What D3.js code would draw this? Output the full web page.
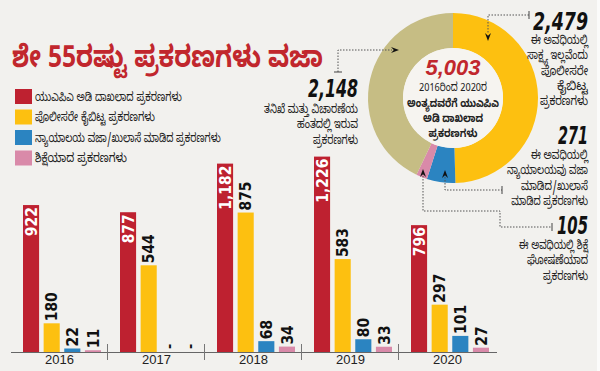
<!DOCTYPE html>
<html><head><meta charset="utf-8">
<script src="https://cdn.jsdelivr.net/npm/d3@7"></script>
<style>
html,body{margin:0;padding:0;background:#f2f1ee;}
svg{display:block;}
.kn{font-family:"Noto Sans Kannada","Noto Sans",sans-serif;}
.num{font-family:"Liberation Sans Narrow","DejaVu Sans Condensed",sans-serif;font-weight:bold;}
</style></head>
<body>
<svg id="c" width="600" height="371"></svg>
<script>
const years = ["2016","2017","2018","2019","2020"];
const seriesNames = ["ಯುಎಪಿಎ ಅಡಿ ದಾಖಲಾದ ಪ್ರಕರಣಗಳು","ಪೊಲೀಸರೇ ಕೈಬಿಟ್ಟ ಪ್ರಕರಣಗಳು","ನ್ಯಾಯಾಲಯ ವಜಾ/ಖುಲಾಸೆ ಮಾಡಿದ ಪ್ರಕರಣಗಳು","ಶಿಕ್ಷೆಯಾದ ಪ್ರಕರಣಗಳು"];
const registered = [922, 877, 1182, 1226, 796];
const droppedByPolice = [180, 544, 875, 583, 297];
const acquitted = [22, null, 68, 80, 101];
const convicted = [11, null, 34, 33, 27];
const seriesColors = ["#be2130","#fdc010","#2b84c1","#d98aa9"];

const donutLabels = ["ಪೊಲೀಸರೇ ಕೈಬಿಟ್ಟ","ನ್ಯಾಯಾಲಯ ವಜಾ","ಶಿಕ್ಷೆ","ತನಿಖೆ/ವಿಚಾರಣೆ"];
const donutValues = [2479, 271, 105, 2148];
const donutColors = ["#fdc010","#2b84c1","#d98aa9","#c6bd84"];
const donutTotal = "5,003";

const svg = d3.select("#c");
svg.append("rect").attr("width",600).attr("height",371).attr("fill","#f2f1ee");
svg.append("rect").attr("x",597).attr("width",3).attr("height",371).attr("fill","#fbfbfa");

// horizontally fit a text element to a target width (keeps glyph height)
function fit(sel, w){
  const L = sel.node().getComputedTextLength();
  const k = w / L;
  const x = +sel.attr("x") || 0, y = +sel.attr("y") || 0;
  sel.attr("x",0).attr("y",0).attr("transform",`translate(${x},${y}) scale(${k},1)`);
  return sel;
}

// Title
fit(svg.append("text").attr("class","kn").attr("x",12).attr("y",67)
  .attr("font-size",30).attr("font-weight","bold").attr("fill","#c1272d")
  .text("ಶೇ 55ರಷ್ಟು ಪ್ರಕರಣಗಳು ವಜಾ"), 311);

// Legend
const legendW = [147,120,186,92];
const leg = svg.append("g");
seriesNames.forEach((n,i)=>{
  const y = 89 + i*20.5;
  leg.append("rect").attr("x",15).attr("y",y).attr("width",17).attr("height",15).attr("fill",seriesColors[i]);
  fit(leg.append("text").attr("class","kn").attr("x",35).attr("y",y+11.5).attr("font-size",12.5).attr("fill","#222").text(n), legendW[i]);
});

// Bars
const series = [registered, droppedByPolice, acquitted, convicted];
const x0 = d3.scaleBand().domain(years).range([12,497]);
const x1 = d3.scaleBand().domain(d3.range(4)).range([11,89]).paddingInner(0.22);
const y = d3.scaleLinear().domain([0,1226]).range([352,156.6]);

const g = svg.append("g");
years.forEach((yr,yi)=>{
  const gg = g.append("g").attr("transform",`translate(${x0(yr)},0)`);
  series.forEach((s,si)=>{
    const v = s[yi];
    const bx = x1(si), bw = x1.bandwidth(), cx = bx+bw/2;
    if (v == null) {
      gg.append("text").attr("class","num").attr("font-size",14)
        .attr("transform",`translate(${cx},${y(0)-3}) rotate(-90)`).attr("dy","0.35em")
        .attr("text-anchor","start").attr("fill","#111").text("-");
      return;
    }
    gg.append("rect").attr("x",bx).attr("width",bw).attr("y",y(v)).attr("height",y(0)-y(v)).attr("fill",seriesColors[si]);
    const lbl = d3.format(",")(v);
    if (si===0) {
      gg.append("text").attr("class","num").attr("font-size",15.5)
        .attr("transform",`translate(${cx},${y(v)+2}) rotate(-90)`).attr("dy","0.36em")
        .attr("text-anchor","end").attr("fill","#fff").text(lbl);
    } else {
      gg.append("text").attr("class","num").attr("font-size",15.5)
        .attr("transform",`translate(${cx},${y(v)-2}) rotate(-90)`).attr("dy","0.36em")
        .attr("text-anchor","start").attr("fill","#111").text(lbl);
    }
  });
});
// axis
g.append("line").attr("x1",11).attr("x2",497).attr("y1",352.5).attr("y2",352.5).attr("stroke","#666").attr("stroke-width",1);
years.slice(1).forEach(yr=>{
  g.append("line").attr("x1",x0(yr)-1.5).attr("x2",x0(yr)-1.5).attr("y1",344).attr("y2",360).attr("stroke","#777").attr("stroke-width",1);
});
years.forEach(yr=>{
  g.append("text").attr("x",x0(yr)+x0.bandwidth()/2-1).attr("y",364).attr("text-anchor","middle")
    .attr("font-family","'Liberation Sans Narrow',sans-serif").attr("font-size",13).attr("fill","#222").text(yr);
});

// Donut
const cx = 453, cy = 98;
const pie = d3.pie().sort(null).value(d=>d)(donutValues);
const arc = d3.arc().innerRadius(50).outerRadius(85);
const dg = svg.append("g").attr("transform",`translate(${cx},${cy})`);
dg.selectAll("path").data(pie).join("path").attr("d",arc).attr("fill",(d,i)=>donutColors[i]);
dg.append("circle").attr("r",50).attr("fill","#f6f4f0");
dg.append("text").attr("y",-23).attr("text-anchor","middle").attr("font-family","'Liberation Sans',sans-serif")
  .attr("font-weight","bold").attr("font-style","italic").attr("font-size",22).attr("fill","#c1272d").text(donutTotal);
const centerLines = [["2016ರಿಂದ 2020ರ","normal",68,-7.5],["ಅಂತ್ಯದವರೆಗೆ ಯುಎಪಿಎ","bold",92,8.5],["ಅಡಿ ದಾಖಲಾದ","bold",60,23.8],["ಪ್ರಕರಣಗಳು","bold",49,39.1]];
centerLines.forEach((l)=>{
  fit(dg.append("text").attr("class","kn").attr("x",0).attr("y",l[3]).attr("text-anchor","middle").attr("font-size",11.5)
    .attr("font-weight",l[1]).attr("fill","#222").text(l[0]), l[2]);
});

// Annotations
const ann = svg.append("g");
function bigNum(xp,yp,t,w){
  fit(ann.append("text").attr("class","num").attr("x",xp).attr("y",yp).attr("text-anchor","end")
    .attr("font-style","italic").attr("font-size",25).attr("fill","#111").text(t), w);
}
function lines(xp,y0,arr){
  arr.forEach((t,i)=>fit(ann.append("text").attr("class","kn").attr("x",xp).attr("y",y0+i*15.3)
    .attr("text-anchor","end").attr("font-size",12.5).attr("fill","#222").text(t[0]), t[1]));
}
function dotted(d){
  ann.append("path").attr("d",d).attr("fill","none").attr("stroke","#555").attr("stroke-width",1).attr("stroke-dasharray","1.5,1.5");
}
function arrow(xp,yp,dir){
  const s=4;
  let p;
  if(dir==="down") p=[[xp,yp],[xp-s+1,yp-s*2],[xp,yp-s*1.3],[xp+s-1,yp-s*2]];
  else if(dir==="up") p=[[xp,yp],[xp-s+1,yp+s*2],[xp,yp+s*1.3],[xp+s-1,yp+s*2]];
  else p=[[xp,yp],[xp-s*2,yp-s+1],[xp-s*1.3,yp],[xp-s*2,yp+s-1]];
  ann.append("path").attr("d","M"+p.join("L")+"Z").attr("fill","#111");
}
function tickV(xp,yp){ ann.append("line").attr("x1",xp).attr("x2",xp).attr("y1",yp-4).attr("y2",yp+4).attr("stroke","#444"); }
function tickH(xp,yp){ ann.append("line").attr("x1",xp-4).attr("x2",xp+4).attr("y1",yp).attr("y2",yp).attr("stroke","#444"); }

// 2,479
bigNum(588,30,d3.format(",")(donutValues[0]),55);
lines(588,44,[["ಈ ಅವಧಿಯಲ್ಲಿ",57],["ಸಾಕ್ಷ್ಯ ಇಲ್ಲವೆಂದು",61],["ಪೊಲೀಸರೇ",47],["ಕೈಬಿಟ್ಟ",31],["ಪ್ರಕರಣಗಳು",48]]);
dotted("M529,15H488V34"); tickV(529,15); arrow(488,41,"down");

// 2,148
bigNum(358,97,d3.format(",")(donutValues[3]),50);
lines(358,113,[["ತನಿಖೆ ಮತ್ತು ವಿಚಾರಣೆಯ",94],["ಹಂತದಲ್ಲಿ ಇರುವ",61],["ಪ್ರಕರಣಗಳು",45]]);
dotted("M338,72V50H392"); tickH(338,72); arrow(399,50,"right");

// 271
bigNum(588,144,d3.format(",")(donutValues[1]),30);
lines(588,159,[["ಈ ಅವಧಿಯಲ್ಲಿ",57],["ನ್ಯಾಯಾಲಯವು ವಜಾ",81],["ಮಾಡಿದ/ಖುಲಾಸೆ",67],["ಮಾಡಿದ ಪ್ರಕರಣಗಳು",77]]);
dotted("M445,177V190H502"); tickV(502,190); arrow(445,170,"up");

// 105
bigNum(588,234,d3.format(",")(donutValues[2]),31);
lines(588,249,[["ಈ ಅವಧಿಯಲ್ಲಿ ಶಿಕ್ಷೆ",69],["ಘೋಷಣೆಯಾದ",61],["ಪ್ರಕರಣಗಳು",45]]);
dotted("M423,176V211H500V227H552"); tickV(552,227); arrow(423,169,"up");
</script>
</body></html>
